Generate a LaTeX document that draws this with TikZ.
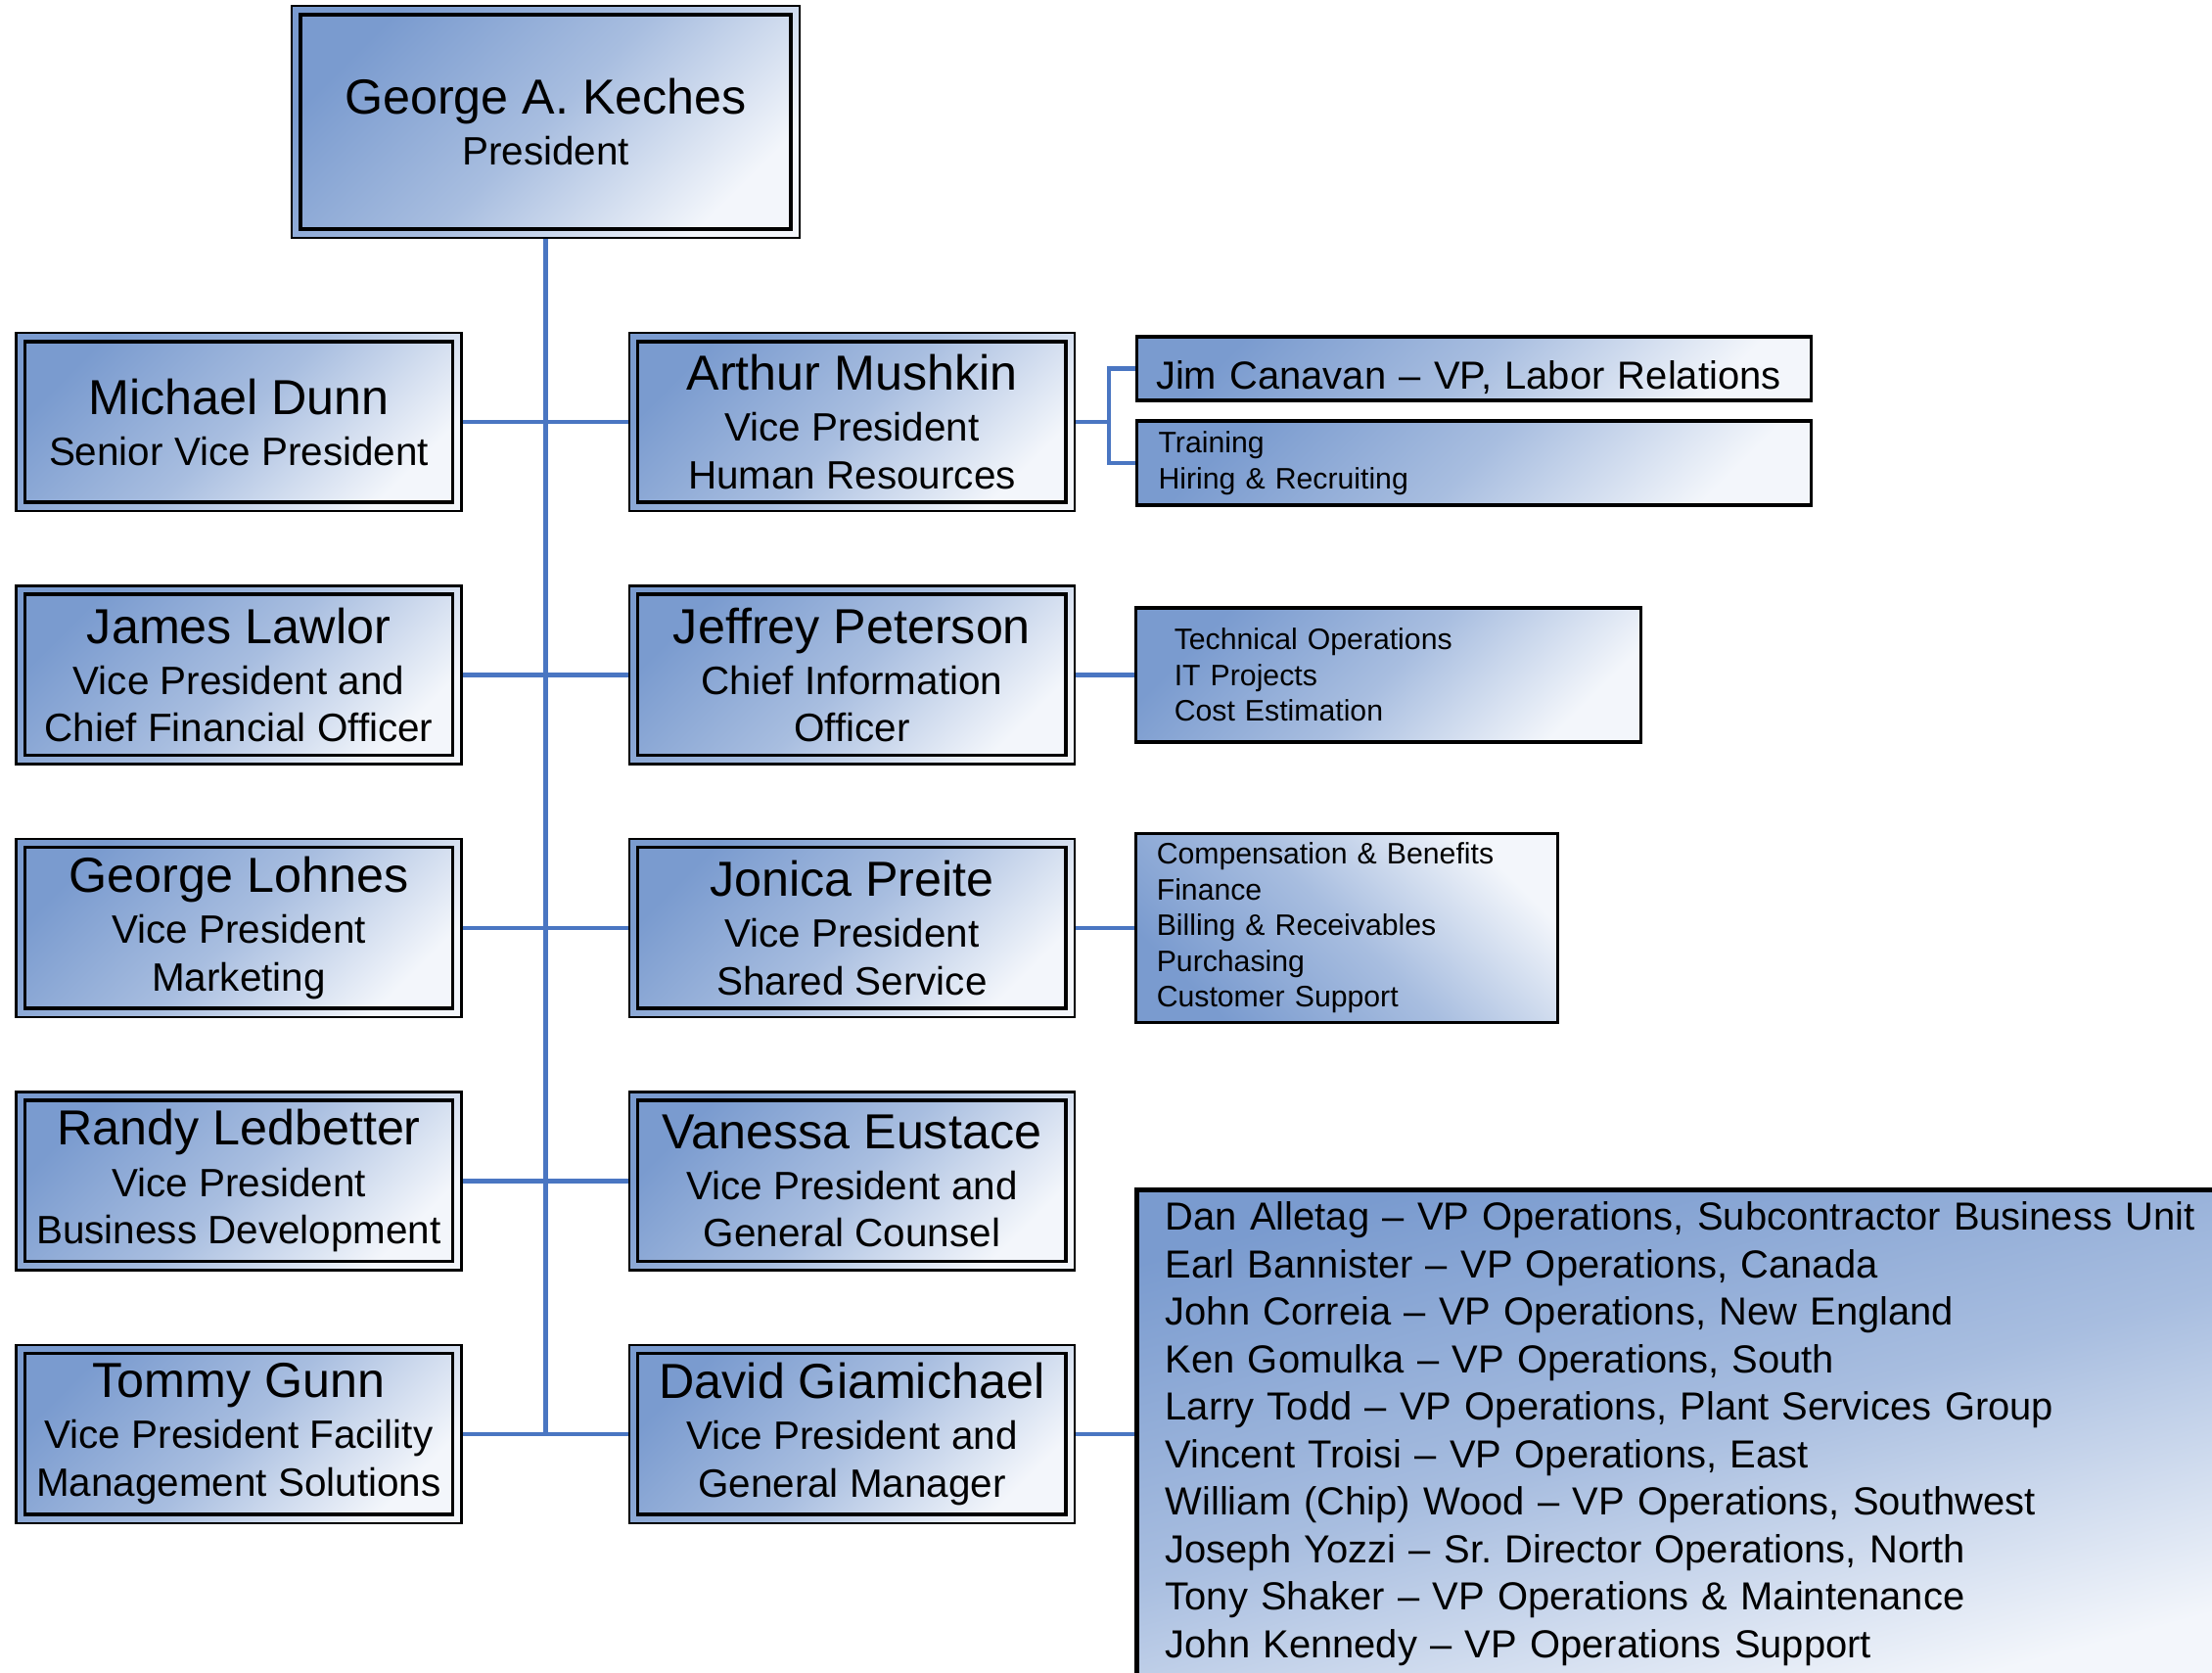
\documentclass[tikz,border=0pt]{standalone}
\usepackage{fontspec}
\setmainfont{Liberation Sans}
\usepackage{tikz}
\usetikzlibrary{positioning}

\definecolor{boxblue}{RGB}{122,155,207}
\definecolor{boxlight}{RGB}{243,246,251}
\colorlet{boxmid}{boxblue!62!boxlight}
\definecolor{linkblue}{RGB}{74,118,194}

\newcommand{\bossname}[1]{{\fontsize{14.3}{17}\selectfont #1}\\[0.9pt]}

\begin{document}
\begin{tikzpicture}[
		mainbox/.style={draw=black, line width=0.7pt, top color=boxblue, bottom color=boxlight, middle color=boxmid,
			shading angle=45, minimum width=4.55cm, minimum height=1.82cm, inner sep=0pt, align=center,
			font=\fontsize{11.5}{13.9}\selectfont},
		innerframe/.style={draw=black, line width=1pt},
		teambox/.style={draw=black, line width=0.9pt, top color=boxblue, bottom color=boxlight, middle color=boxmid,
			shading angle=45, inner ysep=0pt, align=left, font=\fontsize{8.6}{10.4}\selectfont},
		link/.style={draw=linkblue, line width=1.2pt}
	]
	
	\useasboundingbox (0,0) rectangle (22.6,-17.08);
	\clip (0,0) rectangle (22.6,-17.08);
	
	%
	\node[mainbox, minimum width=5.19cm, minimum height=2.37cm] (keches) at (5.575,-1.245)
		{\bossname{George A. Keches} President};
	
	%
	\node[mainbox] (dunn) at (2.44,-4.31) {\bossname{Michael Dunn} Senior Vice President};
	\node[mainbox, below=0.74cm of dunn] (lawlor) {\bossname{James Lawlor} Vice President and\\ Chief Financial Officer};
	\node[mainbox, below=0.74cm of lawlor] (lohnes) {\bossname{George Lohnes} Vice President\\ Marketing};
	\node[mainbox, below=0.74cm of lohnes] (ledbetter) {\bossname{Randy Ledbetter} Vice President\\ Business Development};
	\node[mainbox, below=0.74cm of ledbetter] (gunn) {\bossname{Tommy Gunn} Vice President Facility\\ Management Solutions};
	
	%
	\node[mainbox, right=1.69cm of dunn] (mushkin) {\bossname{Arthur Mushkin} Vice President\\ Human Resources};
	\node[mainbox, right=1.69cm of lawlor] (peterson) {\bossname{Jeffrey Peterson} Chief Information\\ Officer};
	\node[mainbox, right=1.69cm of lohnes] (preite) {\bossname{Jonica Preite} Vice President\\ Shared Service};
	\node[mainbox, right=1.69cm of ledbetter] (eustace) {\bossname{Vanessa Eustace} Vice President and\\ General Counsel};
	\node[mainbox, right=1.69cm of gunn] (giamichael) {\bossname{David Giamichael} Vice President and\\ General Manager};
	
	\foreach \n in {keches, dunn, lawlor, lohnes, ledbetter, gunn, mushkin, peterson, preite, eustace, giamichael} {
		\draw[innerframe] ([shift={(0.1,-0.1)}]\n.north west) rectangle ([shift={(-0.1,0.1)}]\n.south east);
	}
	
	%
	\node[teambox, anchor=west, inner xsep=0.195cm, text width=6.5cm, minimum height=0.65cm, text height=12.1pt, text depth=0pt,
		font=\fontsize{11.36}{13.9}\selectfont] (canavan) at (11.6,-3.765) {Jim Canavan -- VP, Labor Relations};
	\node[teambox, anchor=west, inner xsep=0.22cm, text width=6.45cm, minimum height=0.86cm] (hrteam) at (11.6,-4.73)
		{Training\\ Hiring \& Recruiting};
	\node[teambox, right=0.6cm of peterson, inner xsep=0.39cm, text width=4.38cm, minimum height=1.37cm] (itteam)
		{Technical Operations\\ IT Projects\\ Cost Estimation};
	\node[teambox, right=0.6cm of preite, inner xsep=0.21cm, text width=3.89cm, minimum height=1.93cm, shading angle=135] (sharedteam)
		{Compensation \& Benefits\\ Finance\\ Billing \& Receivables\\ Purchasing\\ Customer Support};
	\node[teambox, right=0.6cm of giamichael, line width=1.4pt, inner xsep=0.29cm, text width=10.72cm, minimum height=4.98cm,
		shading angle=15, font=\fontsize{11.36}{13.8}\selectfont] (opsteam)
		{Dan Alletag -- VP Operations, Subcontractor Business Unit\\
		Earl Bannister -- VP Operations, Canada\\
		John Correia -- VP Operations, New England\\
		Ken Gomulka -- VP Operations, South\\
		Larry Todd -- VP Operations, Plant Services Group\\
		Vincent Troisi -- VP Operations, East\\
		William (Chip) Wood -- VP Operations, Southwest\\
		Joseph Yozzi -- Sr.\ Director Operations, North\\
		Tony Shaker -- VP Operations \& Maintenance\\
		John Kennedy -- VP Operations Support};
	
	%
	\draw[link] (keches.south) -- (keches.south |- giamichael.west);
	\foreach \l/\r in {dunn/mushkin, lawlor/peterson, lohnes/preite, ledbetter/eustace, gunn/giamichael} {
		\draw[link] (\l.east) -- (\r.west);
	}
	
	\coordinate (hrfork) at ([xshift=0.34cm]mushkin.east);
	\draw[link] (mushkin.east) -- (hrfork);
	\draw[link] (canavan.west) -| (hrfork) |- (hrteam.west);
	\draw[link] (peterson.east) -- (itteam.west);
	\draw[link] (preite.east) -- (preite.east -| sharedteam.west);
	\draw[link] (giamichael.east) -- (giamichael.east -| opsteam.west);
	
\end{tikzpicture}
\end{document}
